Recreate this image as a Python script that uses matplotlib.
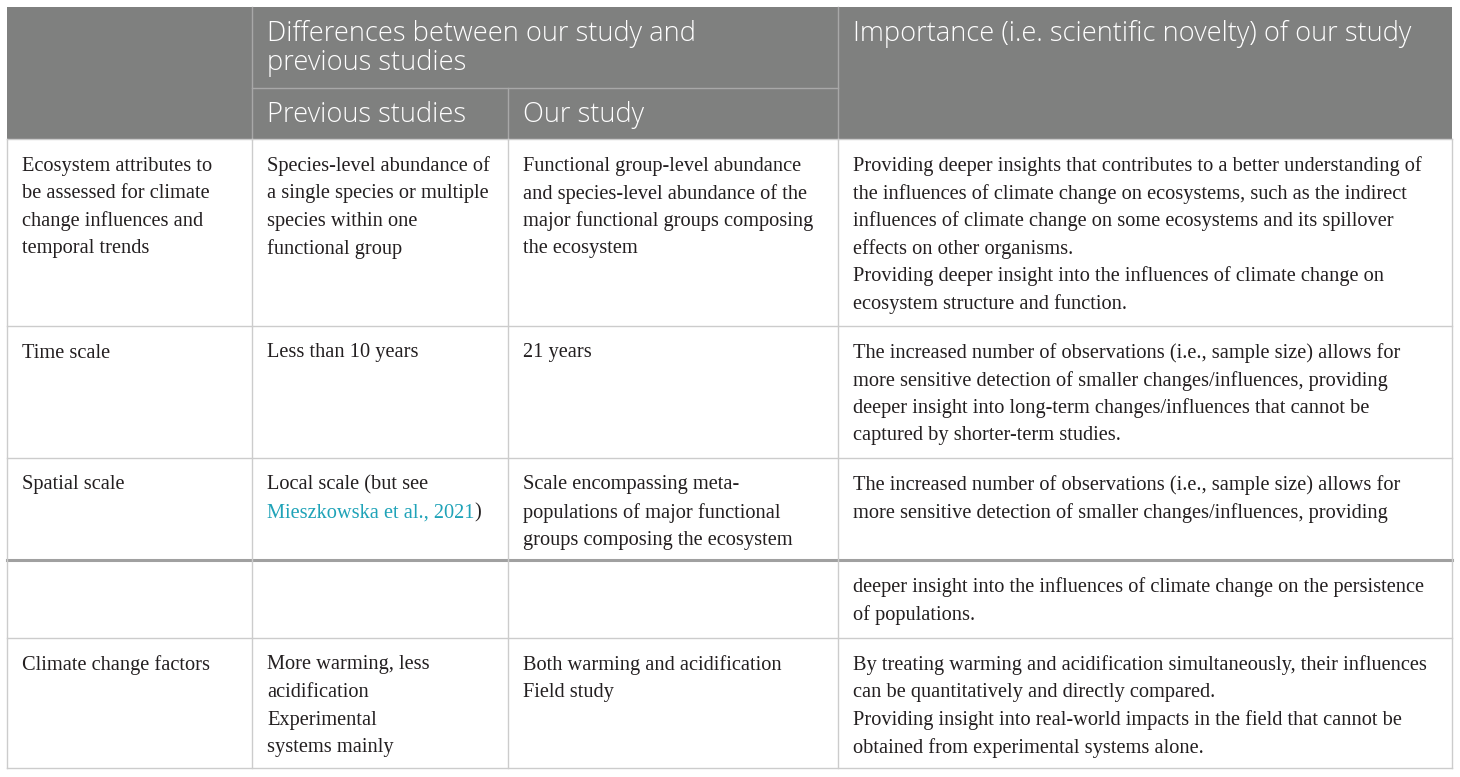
import matplotlib
matplotlib.use('Agg')
import matplotlib.pyplot as plt

# table content
header_top = ['Differences between our study and', 'previous studies',
              'Importance (i.e. scientific novelty) of our study']
header_sub = ['Previous studies', 'Our study']

col1 = [
    ['Ecosystem attributes to', 'be assessed for climate', 'change influences and', 'temporal trends'],
    ['Time scale'],
    ['Spatial scale'],
    [],
    ['Climate change factors'],
]
col2 = [
    ['Species-level abundance of', 'a single species or multiple', 'species within one', 'functional group'],
    ['Less than 10 years'],
    ['Local scale (but see', '@Mieszkowska et al., 2021|)'],
    [],
    ['More warming, less', 'acidification', 'Experimental', 'systems mainly'],
]
col3 = [
    ['Functional group-level abundance', 'and species-level abundance of the', 'major functional groups composing', 'the ecosystem'],
    ['21 years'],
    ['Scale encompassing meta-', 'populations of major functional', 'groups composing the ecosystem'],
    [],
    ['Both warming and acidification', 'Field study'],
]
col4 = [
    ['Providing deeper insights that contributes to a better understanding of',
     'the influences of climate change on ecosystems, such as the indirect',
     'influences of climate change on some ecosystems and its spillover',
     'effects on other organisms.',
     'Providing deeper insight into the influences of climate change on',
     'ecosystem structure and function.'],
    ['The increased number of observations (i.e., sample size) allows for',
     'more sensitive detection of smaller changes/influences, providing',
     'deeper insight into long-term changes/influences that cannot be',
     'captured by shorter-term studies.'],
    ['The increased number of observations (i.e., sample size) allows for',
     'more sensitive detection of smaller changes/influences, providing'],
    ['deeper insight into the influences of climate change on the persistence',
     'of populations.'],
    ['By treating warming and acidification simultaneously, their influences',
     'can be quantitatively and directly compared.',
     'Providing insight into real-world impacts in the field that cannot be',
     'obtained from experimental systems alone.'],
]

# layout (pixels)
W, H = 1460, 777
xs = [7, 252, 508, 838, 1452]
row_y = [139, 326, 458, 560, 638, 768]
top_y = 7
sub_y = 88
pad_x = 15
first_line = 27
line_h = 27.6
body_fs = 14.7
head_fs = 19.6

head_bg = '#7f807f'
grid = '#cccccc'
txt = '#231f20'
link = '#1fa3b8'
serif = ['Liberation Serif', 'DejaVu Serif']
sans = ['Open Sans', 'DejaVu Sans']

fig = plt.figure(figsize=(W / 100, H / 100), dpi=100)
ax = fig.add_axes([0, 0, 1, 1])
ax.set_xlim(0, W)
ax.set_ylim(H, 0)
ax.axis('off')

# header background
ax.add_patch(plt.Rectangle((xs[0], top_y), xs[-1] - xs[0], row_y[0] - top_y,
                           facecolor=head_bg, edgecolor='none'))
ax.plot([xs[1], xs[1]], [top_y, row_y[0]], color='#a8a8a8', lw=1)
ax.plot([xs[3], xs[3]], [top_y, row_y[0]], color='#a8a8a8', lw=1)
ax.plot([xs[2], xs[2]], [sub_y, row_y[0]], color='#a8a8a8', lw=1)
ax.plot([xs[1], xs[3]], [sub_y, sub_y], color='#a8a8a8', lw=1)

hkw = dict(color='white', fontsize=head_fs, family=sans, fontweight='light',
           va='center', ha='left')
ax.text(xs[1] + pad_x, 34, header_top[0], **hkw)
ax.text(xs[1] + pad_x, 63, header_top[1], **hkw)
ax.text(xs[3] + pad_x, 34, header_top[2], **hkw)
ax.text(xs[1] + pad_x, 115, header_sub[0], **hkw)
ax.text(xs[2] + pad_x, 115, header_sub[1], **hkw)

# body grid
for y in row_y:
    if y == row_y[3]:
        ax.plot([xs[0], xs[-1]], [y, y], color='#a0a0a0', lw=2.2)
    else:
        ax.plot([xs[0], xs[-1]], [y, y], color=grid, lw=1)
for x in xs:
    ax.plot([x, x], [row_y[0], row_y[-1]], color=grid, lw=1)

fig.canvas.draw()
renderer = fig.canvas.get_renderer()

columns = [col1, col2, col3, col4]
for ci, col in enumerate(columns):
    for ri, lines in enumerate(col):
        for li, line in enumerate(lines):
            x = xs[ci] + pad_x
            y = row_y[ri] + first_line + li * line_h
            if line.startswith('@'):
                ref, rest = line[1:].split('|')
                t = ax.text(x, y, ref, color=link, fontsize=body_fs, family=serif,
                            va='center', ha='left')
                bb = t.get_window_extent(renderer)
                x2 = x + bb.width * W / fig.bbox.width
                ax.text(x2, y, rest, color=txt, fontsize=body_fs, family=serif,
                        va='center', ha='left')
            else:
                ax.text(x, y, line, color=txt, fontsize=body_fs, family=serif,
                        va='center', ha='left')

fig.savefig('out.png', dpi=100, facecolor='white')
